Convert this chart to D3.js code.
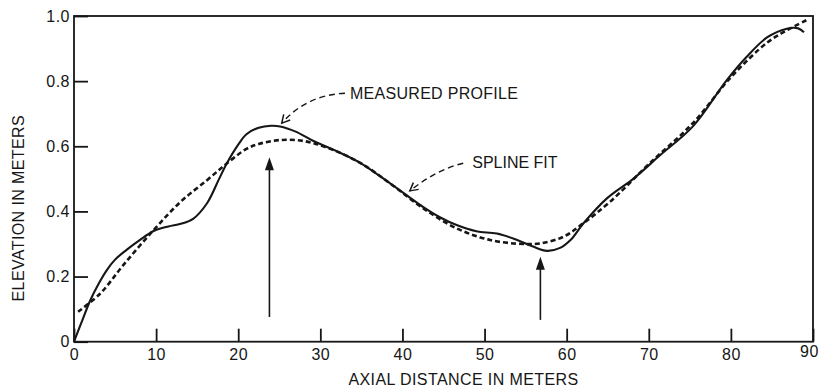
<!DOCTYPE html>
<html>
<head>
<meta charset="utf-8">
<script src="https://cdn.jsdelivr.net/npm/d3@7"></script>
<style>
  html, body { margin: 0; padding: 0; background: #fff; }
  svg { display: block; }
  text { font-family: "Liberation Sans", Arial, Helvetica, sans-serif; fill: #161616; }
</style>
</head>
<body>
<svg id="chart" width="821" height="388"></svg>
<script>
// ---- data ----
const measuredX = [0, 1, 2, 3, 4, 5, 6.4, 8, 9.7, 11.5, 13, 14.5, 16.2, 17.6, 18.6, 20, 21, 22.5, 24, 25.1, 27, 29.1, 32, 34.8, 38.5, 40.5, 42.5, 44.5, 46.6, 49, 51.5, 53.9, 55.9, 57.6, 59.2, 60.5, 62, 64.9, 68.1, 71.4, 75.4, 79.5, 81.9, 84.4, 86.8, 88.2, 88.9];
const measuredY = [0, 0.065, 0.128, 0.178, 0.22, 0.252, 0.282, 0.312, 0.34, 0.354, 0.362, 0.377, 0.425, 0.496, 0.547, 0.605, 0.637, 0.657, 0.663, 0.661, 0.645, 0.617, 0.585, 0.55, 0.486, 0.45, 0.414, 0.383, 0.358, 0.339, 0.332, 0.313, 0.292, 0.279, 0.288, 0.313, 0.362, 0.44, 0.5, 0.573, 0.662, 0.803, 0.874, 0.934, 0.961, 0.962, 0.95];

const splineX = [0.5, 3.2, 6, 9.7, 13, 16.2, 18.6, 21, 22.5, 25, 28, 31, 34.8, 38.5, 42.5, 46.6, 50.7, 54.7, 56.8, 59.6, 62, 65.3, 70, 75.4, 80, 84.4, 86.8, 89.2];
const splineY = [0.092, 0.148, 0.235, 0.343, 0.43, 0.496, 0.547, 0.592, 0.607, 0.619, 0.616, 0.594, 0.55, 0.486, 0.41, 0.348, 0.312, 0.3, 0.302, 0.322, 0.363, 0.43, 0.545, 0.672, 0.812, 0.918, 0.956, 0.987];

const xTicks = [0, 10, 20, 30, 40, 50, 60, 70, 80, 90];
const yTicks = [0, 0.2, 0.4, 0.6, 0.8, 1.0];
const yTickLabels = ["0", "0.2", "0.4", "0.6", "0.8", "1.0"];

// annotations (data coordinates)
const labelText = ["MEASURED PROFILE", "SPLINE FIT"];
const labelX = [33.6, 48.5];
const labelY = [0.745, 0.533];
const leaderStartX = [33.0, 47.4];
const leaderStartY = [0.763, 0.548];
const leaderCtrlX = [28.3, 44.2];
const leaderCtrlY = [0.757, 0.529];
const leaderTipX = [25.3, 40.9];
const leaderTipY = [0.671, 0.463];

const arrowX = [23.8, 56.8];
const arrowTopY = [0.566, 0.261];
const arrowBottomY = [0.076, 0.067];

// ---- layout ----
const svg = d3.select("#chart");
const margin = { left: 74, top: 16, right: 8, bottom: 46.3 };
const W = 821, H = 388;
const innerW = W - margin.left - margin.right;
const innerH = H - margin.top - margin.bottom;

const x = d3.scaleLinear().domain([0, 90]).range([margin.left, margin.left + innerW]);
const y = d3.scaleLinear().domain([0, 1]).range([margin.top + innerH, margin.top]);

const ink = "#161616";

// axes
const xAxis = d3.axisBottom(x).tickValues(xTicks).tickFormat(d3.format("d"))
  .tickSizeInner(-13).tickSizeOuter(0).tickPadding(7);
const gx = svg.append("g").attr("transform", `translate(0,${y(0)})`).call(xAxis);
gx.select(".domain").remove();
gx.selectAll(".tick line").attr("stroke", ink).attr("stroke-width", 1.8);
gx.selectAll(".tick text").attr("font-size", 16).attr("letter-spacing", 0.5).attr("fill", ink)
  .attr("font-family", null)
  .attr("dx", d => d === 90 ? -4 : 0)
  .attr("dy", d => d === 90 ? "0.55em" : "0.71em");

const yAxis = d3.axisLeft(y).tickValues(yTicks).tickFormat((d, i) => yTickLabels[i])
  .tickSizeInner(-14).tickSizeOuter(0).tickPadding(4);
const gy = svg.append("g").attr("transform", `translate(${x(0)},0)`).call(yAxis);
gy.select(".domain").remove();
gy.selectAll(".tick line").attr("stroke", ink).attr("stroke-width", 1.8);
gy.selectAll(".tick text").attr("font-size", 16).attr("letter-spacing", 0.5).attr("fill", ink)
  .attr("font-family", null);

// frame
svg.append("rect")
  .attr("x", x(0)).attr("y", y(1))
  .attr("width", x(90) - x(0)).attr("height", y(0) - y(1))
  .attr("fill", "none").attr("stroke", ink).attr("stroke-width", 1.8);

// axis titles
svg.append("text")
  .attr("x", (x(30) + x(60)) / 2 + 20).attr("y", 385)
  .attr("text-anchor", "middle").attr("font-size", 16).attr("letter-spacing", 0.4)
  .text("AXIAL DISTANCE IN METERS");

svg.append("text")
  .attr("transform", `translate(24,${(y(0.06) + y(0.76)) / 2}) rotate(-90)`)
  .attr("text-anchor", "middle").attr("font-size", 16).attr("letter-spacing", 0.4)
  .text("ELEVATION IN METERS");

// curves
const line = d3.line().x(d => x(d[0])).y(d => y(d[1])).curve(d3.curveCatmullRom.alpha(0.5));

const splinePts = splineX.map((v, i) => [v, splineY[i]]);
const measuredPts = measuredX.map((v, i) => [v, measuredY[i]]);

svg.append("path").attr("d", line(splinePts))
  .attr("fill", "none").attr("stroke", ink).attr("stroke-width", 2.6)
  .attr("stroke-dasharray", "5,3");

svg.append("path").attr("d", line(measuredPts))
  .attr("fill", "none").attr("stroke", ink).attr("stroke-width", 2.1)
  .attr("stroke-linejoin", "round");

// annotation labels + dashed leaders with open arrowheads
labelText.forEach((t, i) => {
  svg.append("text").attr("x", x(labelX[i])).attr("y", y(labelY[i]))
    .attr("font-size", 16).attr("letter-spacing", i === 0 ? 0.3 : 0).text(t);
  const p0 = [x(leaderStartX[i]), y(leaderStartY[i])];
  const c = [x(leaderCtrlX[i]), y(leaderCtrlY[i])];
  const p2 = [x(leaderTipX[i]), y(leaderTipY[i])];
  const path = d3.path();
  path.moveTo(p0[0], p0[1]);
  path.quadraticCurveTo(c[0], c[1], p2[0], p2[1]);
  svg.append("path").attr("d", path.toString())
    .attr("fill", "none").attr("stroke", ink).attr("stroke-width", 1.4)
    .attr("stroke-dasharray", "6,4");
  const ang = Math.atan2(p2[1] - c[1], p2[0] - c[0]);
  const L = 9, spread = 0.5;
  const h = d3.path();
  h.moveTo(p2[0] - L * Math.cos(ang - spread), p2[1] - L * Math.sin(ang - spread));
  h.lineTo(p2[0], p2[1]);
  h.lineTo(p2[0] - L * Math.cos(ang + spread), p2[1] - L * Math.sin(ang + spread));
  svg.append("path").attr("d", h.toString())
    .attr("fill", "none").attr("stroke", ink).attr("stroke-width", 1.5);
});

// vertical arrows
arrowX.forEach((ax, i) => {
  const px = x(ax), top = y(arrowTopY[i]), bot = y(arrowBottomY[i]);
  svg.append("line").attr("x1", px).attr("x2", px).attr("y1", bot).attr("y2", top + 10)
    .attr("stroke", ink).attr("stroke-width", 1.6);
  svg.append("path")
    .attr("d", `M${px},${top} L${px - 4.5},${top + 13} L${px + 4.5},${top + 13} Z`)
    .attr("fill", ink);
});
</script>
</body>
</html>
